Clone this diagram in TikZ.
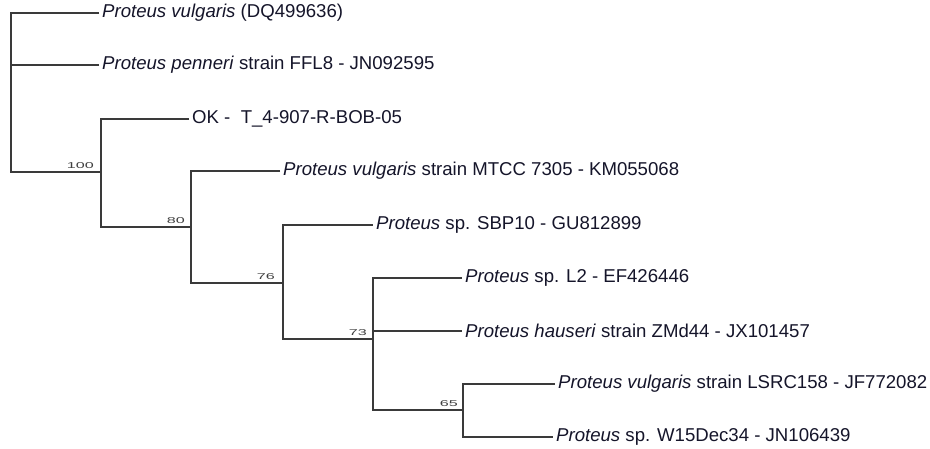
\documentclass[tikz,border=0pt]{standalone}
\usepackage{graphicx}
\usepackage{fontspec}
\setmainfont{Liberation Sans}
\definecolor{txt}{HTML}{15152A}
\definecolor{branch}{HTML}{3A3A3A}
\definecolor{boot}{HTML}{404040}
\newcommand{\bsv}[1]{\scalebox{1.9}[1]{#1}}
\begin{document}
\begin{tikzpicture}[x=1pt,y=-1pt,
  leaf/.style={anchor=west,inner xsep=3pt,inner ysep=0pt,text=txt,font=\fontsize{18.6}{20}\selectfont},
  br/.style={draw=branch,line width=1.2pt},
  bs/.style={anchor=south east,inner sep=0pt,text=boot,font=\fontsize{8.5}{9}\selectfont}]
\fill[white] (0,0) rectangle (930,449);
\useasboundingbox (0,0) rectangle (930,449);
% junctions
\coordinate (root) at (11,172);
\coordinate (c100) at (101,172);
\coordinate (c80) at (191,227);
\coordinate (c76) at (283,283);
\coordinate (c73) at (373,339);
\coordinate (c65) at (463,410);
% leaves
\node[leaf] (pv1) at (99,13) {\textit{Proteus vulgaris} (DQ499636)};
\node[leaf] (ppen) at (99,65) {\textit{Proteus penneri} strain FFL8 - JN092595};
\node[leaf] (ok) at (189,119) {OK -\ \ T\_4-907-R-BOB-05};
\node[leaf] (mtcc) at (280,171) {\textit{Proteus vulgaris} strain MTCC 7305 - KM055068};
\node[leaf] (sbp) at (373,225) {\textit{Proteus} sp. SBP10 - GU812899};
\node[leaf] (l2) at (462,278) {\textit{Proteus} sp. L2 - EF426446};
\node[leaf] (hau) at (462,331) {\textit{Proteus hauseri} strain ZMd44 - JX101457};
\node[leaf] (lsrc) at (555,384) {\textit{Proteus vulgaris} strain LSRC158 - JF772082};
\node[leaf] (w15) at (553,437) {\textit{Proteus} sp. W15Dec34 - JN106439};
% branches
\draw[br] (pv1.west) -| (root) -- (c100);
\draw[br] (ppen.west) -- (ppen.west -| root);
\draw[br] (ok.west) -| (c100) |- (c80);
\draw[br] (mtcc.west) -| (c80) |- (c76);
\draw[br] (c76) |- (sbp.west);
\draw[br] (c76) |- (c73);
\draw[br] (c73) |- (l2.west);
\draw[br] (c73 |- hau.west) -- (hau.west);
\draw[br] (c73) |- (c65);
\draw[br] (c65) |- (lsrc.west);
\draw[br] (c65) |- (w15.west);
% bootstrap values
\node[bs] (b100) at ([xshift=-7pt,yshift=3pt]c100) {\bsv{100}};
\node[bs] (b80) at ([xshift=-6pt,yshift=3pt]c80) {\bsv{80}};
\node[bs] (b76) at ([xshift=-8pt,yshift=3pt]c76) {\bsv{76}};
\node[bs] (b73) at ([xshift=-6pt,yshift=3pt]c73) {\bsv{73}};
\node[bs] (b65) at ([xshift=-5pt,yshift=3pt]c65) {\bsv{65}};
\end{tikzpicture}
\end{document}
